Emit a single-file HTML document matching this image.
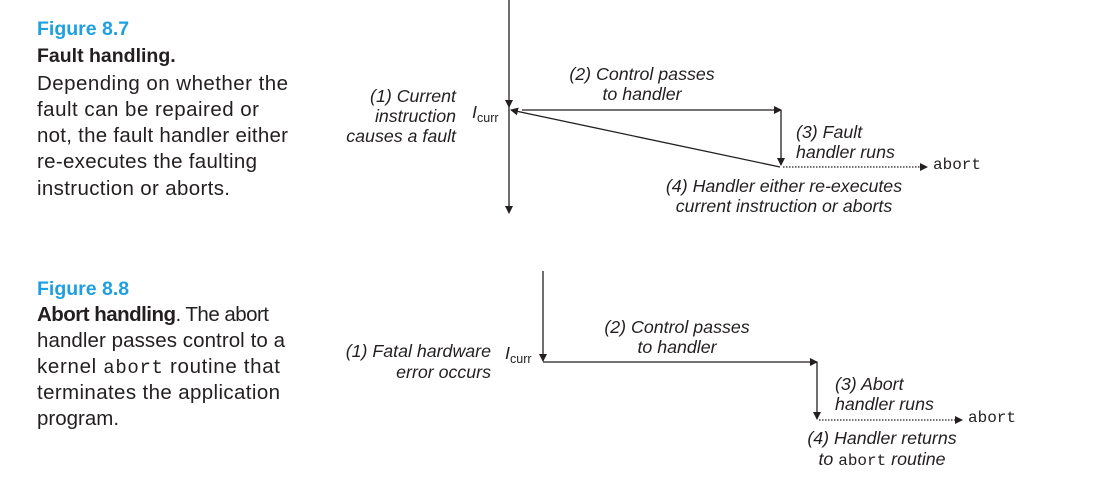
<!DOCTYPE html>
<html><head><meta charset="utf-8"><style>
html,body{margin:0;padding:0;background:#fff;}
svg{display:block;}
.b{font-family:"Liberation Sans",sans-serif;font-size:20.5px;fill:#231f20;}
.h{font-family:"Liberation Sans",sans-serif;font-size:19.5px;font-weight:bold;fill:#1ea0e0;}
.i{font-family:"Liberation Sans",sans-serif;font-size:17.8px;font-style:italic;fill:#231f20;}
.m{font-family:"Liberation Mono",monospace;font-size:16px;fill:#231f20;}
.s{font-family:"Liberation Sans",sans-serif;font-size:12.5px;fill:#231f20;}
</style></head><body>
<svg width="1108" height="493" viewBox="0 0 1108 493" xmlns="http://www.w3.org/2000/svg">
<defs>
<marker id="a" markerWidth="8" markerHeight="8" refX="7" refY="4" orient="auto" markerUnits="userSpaceOnUse">
<path d="M0,0 L8,4 L0,8 z" fill="#231f20"/></marker>
</defs>
<text class="h" x="37" y="35">Figure 8.7</text>
<text class="b" x="37" y="62" style="font-weight:bold;font-size:19.5px">Fault  handling.</text>
<text class="b" x="37" y="90" textLength="251">Depending on whether the</text>
<text class="b" x="37" y="116" textLength="222">fault can be repaired or</text>
<text class="b" x="37" y="142" textLength="251">not, the fault handler either</text>
<text class="b" x="37" y="168" textLength="220">re-executes the faulting</text>
<text class="b" x="37" y="195" textLength="193">instruction or aborts.</text>
<text class="h" x="37" y="295">Figure 8.8</text>
<text class="b" x="37" y="321" textLength="232"><tspan font-weight="bold">Abort handling</tspan>. The abort</text>
<text class="b" x="37" y="347" textLength="248">handler passes control to a</text>
<text class="b" x="37" y="373" textLength="243">kernel <tspan style="font-family:'Liberation Mono',monospace;font-size:19px">abort</tspan> routine that</text>
<text class="b" x="37" y="399" textLength="243">terminates the application</text>
<text class="b" x="37" y="425">program.</text>

<g stroke="#231f20" stroke-width="1.3" fill="none">
<line x1="509" y1="0" x2="509" y2="107" marker-end="url(#a)"/>
<line x1="509" y1="107" x2="509" y2="213" marker-end="url(#a)"/>
<line x1="522" y1="110" x2="781" y2="110" marker-end="url(#a)"/>
<line x1="781" y1="110" x2="781" y2="165" marker-end="url(#a)"/>
<line x1="780" y1="167" x2="511" y2="110" marker-end="url(#a)"/>
<line x1="783" y1="167" x2="927" y2="167" stroke-dasharray="1.5,1.5" marker-end="url(#a)"/>
</g>
<text class="i" x="456" y="102" text-anchor="end">(1) Current</text>
<text class="i" x="456" y="122" text-anchor="end">instruction</text>
<text class="i" x="456" y="142" text-anchor="end">causes a fault</text>
<text class="i" x="472" y="118">I</text><text class="s" x="477" y="122">curr</text>
<text class="i" x="642" y="80" text-anchor="middle">(2) Control passes</text>
<text class="i" x="642" y="100" text-anchor="middle">to handler</text>
<text class="i" x="796" y="138">(3) Fault</text>
<text class="i" x="796" y="158">handler runs</text>
<text class="m" x="933" y="169">abort</text>
<text class="i" x="784" y="192" text-anchor="middle">(4) Handler either re-executes</text>
<text class="i" x="784" y="212" text-anchor="middle">current instruction or aborts</text>

<g stroke="#231f20" stroke-width="1.3" fill="none">
<line x1="543" y1="271" x2="543" y2="361" marker-end="url(#a)"/>
<line x1="543" y1="362" x2="817" y2="362" marker-end="url(#a)"/>
<line x1="817" y1="362" x2="817" y2="419" marker-end="url(#a)"/>
<line x1="819" y1="420" x2="962" y2="420" stroke-dasharray="1.5,1.5" marker-end="url(#a)"/>
</g>
<text class="i" x="491" y="357" text-anchor="end">(1) Fatal hardware</text>
<text class="i" x="491" y="378" text-anchor="end">error occurs</text>
<text class="i" x="505" y="359">I</text><text class="s" x="510" y="363">curr</text>
<text class="i" x="677" y="333" text-anchor="middle">(2) Control passes</text>
<text class="i" x="677" y="353" text-anchor="middle">to handler</text>
<text class="i" x="835" y="390">(3) Abort</text>
<text class="i" x="835" y="410">handler runs</text>
<text class="m" x="968" y="422">abort</text>
<text class="i" x="882" y="444" text-anchor="middle">(4) Handler returns</text>
<text class="i" x="882" y="465" text-anchor="middle">to <tspan class="m" font-style="normal">abort</tspan> routine</text>
</svg>
</body></html>
